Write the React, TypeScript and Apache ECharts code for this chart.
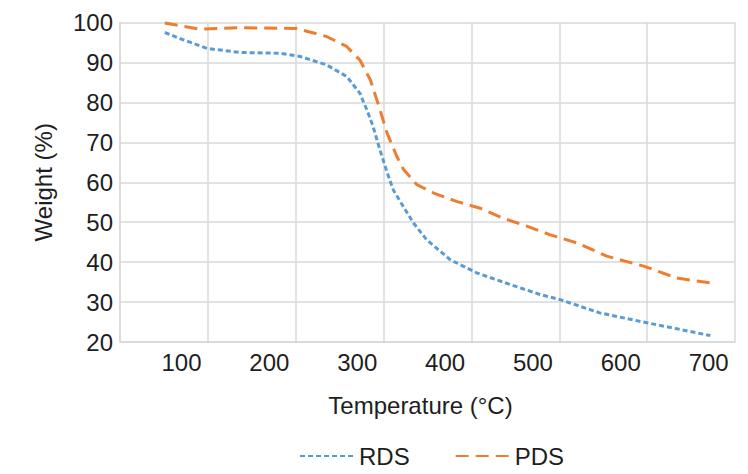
import React, { useEffect, useRef } from "react";
import * as echarts from "echarts";

const rdsTemp = [81, 98, 129, 167, 212, 235, 265, 288, 303, 311, 318, 326, 334, 341, 350, 364, 379, 406, 436, 474, 508, 531, 576, 630, 664, 702];
const rdsWeight = [97.5, 96, 93.5, 92.5, 92.3, 91.5, 89.4, 86.5, 82.3, 78.1, 74, 68, 62.5, 58.1, 54.8, 49.8, 45.6, 40.6, 37.3, 34.4, 31.9, 30.6, 27.3, 24.8, 23.3, 21.6];

const pdsTemp = [81, 121, 167, 231, 265, 288, 303, 315, 326, 334, 345, 353, 368, 387, 413, 440, 466, 493, 519, 550, 584, 626, 664, 702];
const pdsWeight = [99.9, 98.3, 98.7, 98.5, 96.5, 94, 90.6, 85.6, 78.1, 72.3, 66.5, 63.1, 59.4, 57.3, 55.2, 53.5, 51, 49, 46.9, 44.8, 41.5, 39, 36, 34.8];

const xTickLabels = [100, 200, 300, 400, 500, 600, 700];
const yTickLabels = [20, 30, 40, 50, 60, 70, 80, 90, 100];

const FONT = "'Liberation Sans', Arial, Helvetica, sans-serif";
const TEXT = "#1e1e1e";
const GRID = "#d9d9d9";

export default function App() {
  const ref = useRef<HTMLDivElement>(null);
  useEffect(() => {
    if (!ref.current) return;
    const chart = echarts.init(ref.current, undefined, { renderer: "svg" });
    const rds = rdsTemp.map((t, i) => [t, rdsWeight[i]]);
    const pds = pdsTemp.map((t, i) => [t, pdsWeight[i]]);
    chart.setOption({
      animation: false,
      backgroundColor: "#ffffff",
      textStyle: { fontFamily: FONT },
      grid: { left: 120, right: 13, top: 22.5, bottom: 132, containLabel: false },
      legend: {
        show: true,
        orient: "horizontal",
        left: 294,
        top: 439,
        itemWidth: 54,
        itemHeight: 14,
        itemGap: 45,
        itemStyle: { opacity: 0 },
        textStyle: { fontSize: 24, color: TEXT, fontFamily: FONT },
        data: ["RDS", "PDS"],
      },
      xAxis: {
        type: "value",
        min: 30,
        max: 730,
        interval: 100,
        name: "Temperature (°C)",
        nameLocation: "middle",
        nameGap: 51,
        nameTextStyle: { fontSize: 24, color: TEXT, fontFamily: FONT, padding: [0, 14, 0, 0] },
        axisLine: { show: true, lineStyle: { color: GRID, width: 1.5 } },
        axisTick: { show: false },
        axisLabel: {
          customValues: xTickLabels,
          fontSize: 24,
          color: TEXT,
          fontFamily: FONT,
          margin: 8,
        },
        splitLine: { show: true, lineStyle: { color: GRID, width: 1.5 } },
      },
      yAxis: {
        type: "value",
        min: 20,
        max: 100,
        interval: 10,
        name: "Weight (%)",
        nameLocation: "middle",
        nameGap: 65,
        nameTextStyle: { fontSize: 24, color: TEXT, fontFamily: FONT },
        axisLine: { show: true, lineStyle: { color: GRID, width: 1.5 } },
        axisTick: { show: false },
        axisLabel: {
          customValues: yTickLabels,
          fontSize: 24,
          color: TEXT,
          fontFamily: FONT,
          margin: 7,
        },
        splitLine: { show: true, lineStyle: { color: GRID, width: 1.5 } },
      },
      series: [
        {
          name: "RDS",
          type: "line",
          data: rds,
          showSymbol: false,
          symbol: "none",
          color: "#5b9bd5",
          lineStyle: { color: "#5b9bd5", width: 3, type: [5, 3] },
        },
        {
          name: "PDS",
          type: "line",
          data: pds,
          showSymbol: false,
          symbol: "none",
          color: "#ed7d31",
          lineStyle: { color: "#ed7d31", width: 3, type: [13, 7] },
        },
      ],
    });
    return () => chart.dispose();
  }, []);
  return <div ref={ref} style={{ width: 748, height: 474, position: "absolute", left: 0, top: 0 }} />;
}
